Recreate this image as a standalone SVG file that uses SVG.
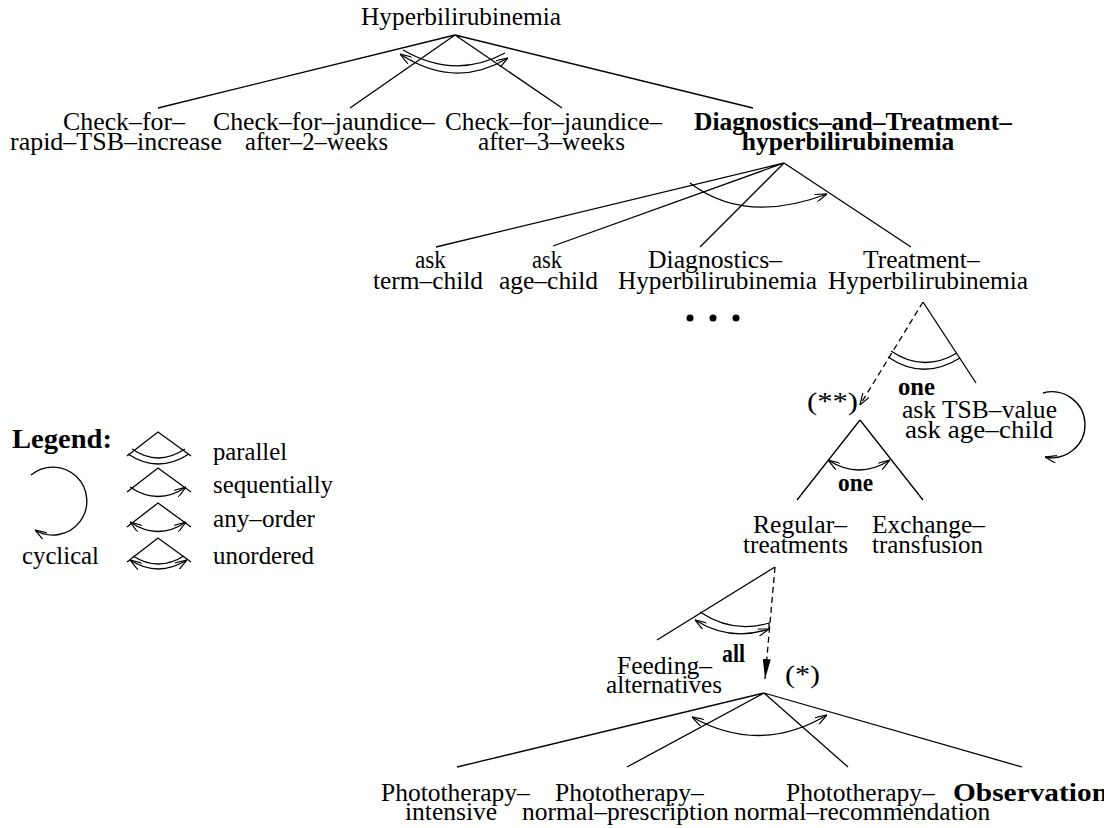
<svg xmlns="http://www.w3.org/2000/svg" width="1104" height="828" viewBox="0 0 1104 828">
<defs>
<style>
.t{font-family:"Liberation Serif","Times New Roman",serif;font-size:25.5px;fill:#000}
.b{font-weight:bold}
.ln{stroke:#000;stroke-width:1.3;fill:none}
.ds{stroke:#000;stroke-width:1.3;fill:none;stroke-dasharray:6 4}
.arc{stroke:#000;stroke-width:1.3;fill:none}
</style>
<marker id="oa" viewBox="0 0 12 8" refX="12" refY="4" markerWidth="12" markerHeight="8" markerUnits="userSpaceOnUse" orient="auto-start-reverse">
<path d="M0,0 L12,4 L0,8" fill="none" stroke="#000" stroke-width="1.2"/>
</marker>
<marker id="fa" viewBox="0 0 20 8" refX="20" refY="4" markerWidth="20" markerHeight="8" markerUnits="userSpaceOnUse" orient="auto">
<path d="M0,0 L20,4 L0,8 Z" fill="#000"/>
</marker>
</defs>
<rect width="1104" height="828" fill="#fff"/>

<g id="connectors">
<path class="ln" d="M455 35 L158 108 M455 35 L350 108 M455 35 L562 108 M455 35 L753 108"/>
<path class="arc" d="M403 50 Q455 80 505 53"/>
<path class="arc" d="M400 54 Q455 90 508 58" marker-start="url(#oa)" marker-end="url(#oa)"/>
<path class="ln" d="M784 163 L436 247 M784 163 L553 246 M784 163 L700 247 M784 163 L911 247"/>
<path class="arc" d="M690 183 Q745 225 827 194" marker-end="url(#oa)"/>
<path class="ln" d="M923 302 L976 383"/>
<path class="ds" d="M923 302 L860 405" marker-end="url(#oa)"/>
<path class="arc" d="M891 351 Q923 373 957 353"/>
<path class="arc" d="M888 357 Q923 381 960 358"/>
<path class="arc" d="M1043 393 A33 33 0 1 1 1045 457" marker-end="url(#oa)"/>
<path class="ln" d="M860 420 L797 500 M860 420 L923 500"/>
<path class="arc" d="M828 460 Q859 480 890 460" marker-start="url(#oa)" marker-end="url(#oa)"/>
<path class="ln" d="M775 567 L657 640"/>
<path class="ds" d="M775 567 L765 679" marker-end="url(#fa)"/>
<path class="arc" d="M700 612 Q733 634 769 623 L769 629"/>
<path class="arc" d="M695 620 Q730 642 769 629" marker-start="url(#oa)" marker-end="url(#oa)"/>
<path class="ln" d="M764 693 L457 767 M764 693 L627 767 M764 693 L848 767 M764 693 L1022 767"/>
<path class="arc" d="M692 717 Q760 755 827 715" marker-start="url(#oa)" marker-end="url(#oa)"/>
</g>

<g id="n-root"><text class="t" x="361" y="25" textLength="200" lengthAdjust="spacingAndGlyphs">Hyperbilirubinemia</text></g>
<g id="n-rapid">
<text class="t" x="63" y="130" textLength="122" lengthAdjust="spacingAndGlyphs">Check–for–</text>
<text class="t" x="10" y="150" textLength="212" lengthAdjust="spacingAndGlyphs">rapid–TSB–increase</text>
</g>
<g id="n-jaundice2">
<text class="t" x="213" y="130" textLength="222" lengthAdjust="spacingAndGlyphs">Check–for–jaundice–</text>
<text class="t" x="245" y="150" textLength="143" lengthAdjust="spacingAndGlyphs">after–2–weeks</text>
</g>
<g id="n-jaundice3">
<text class="t" x="445" y="130" textLength="217" lengthAdjust="spacingAndGlyphs">Check–for–jaundice–</text>
<text class="t" x="478" y="150" textLength="147" lengthAdjust="spacingAndGlyphs">after–3–weeks</text>
</g>
<g id="n-diagtreat">
<text class="t b" x="853" y="130" text-anchor="middle">Diagnostics–and–Treatment–</text>
<text class="t b" x="848" y="150" text-anchor="middle">hyperbilirubinemia</text>
</g>
<g id="n-term">
<text class="t" x="415" y="268" textLength="31" lengthAdjust="spacingAndGlyphs">ask</text>
<text class="t" x="373" y="289" textLength="110" lengthAdjust="spacingAndGlyphs">term–child</text>
</g>
<g id="n-age">
<text class="t" x="532" y="268" textLength="30" lengthAdjust="spacingAndGlyphs">ask</text>
<text class="t" x="499" y="289" textLength="99" lengthAdjust="spacingAndGlyphs">age–child</text>
</g>
<g id="n-diag">
<text class="t" x="648" y="268" textLength="134" lengthAdjust="spacingAndGlyphs">Diagnostics–</text>
<text class="t" x="618" y="289" textLength="199" lengthAdjust="spacingAndGlyphs">Hyperbilirubinemia</text>
<circle cx="690" cy="318" r="3.5"/><circle cx="713" cy="318" r="3.5"/><circle cx="736" cy="318" r="3.5"/>
</g>
<g id="n-treat">
<text class="t" x="863" y="268">Treatment–</text>
<text class="t" x="828" y="289" textLength="200" lengthAdjust="spacingAndGlyphs">Hyperbilirubinemia</text>
<text class="t b" x="898" y="395" textLength="37" lengthAdjust="spacingAndGlyphs">one</text>
</g>
<g id="n-ask">
<text class="t" x="902" y="418" textLength="155" lengthAdjust="spacingAndGlyphs">ask TSB–value</text>
<text class="t" x="905" y="438" textLength="148" lengthAdjust="spacingAndGlyphs">ask age–child</text>
</g>
<g id="n-star2">
<text class="t" x="807" y="410" textLength="51" lengthAdjust="spacingAndGlyphs">(**)</text>
<text class="t b" x="838" y="491" textLength="35" lengthAdjust="spacingAndGlyphs">one</text>
</g>
<g id="n-regular">
<text class="t" x="753" y="533" textLength="94" lengthAdjust="spacingAndGlyphs">Regular–</text>
<text class="t" x="743" y="553" textLength="105" lengthAdjust="spacingAndGlyphs">treatments</text>
<text class="t b" x="722" y="662" textLength="23" lengthAdjust="spacingAndGlyphs">all</text>
</g>
<g id="n-exchange">
<text class="t" x="872" y="533" textLength="113" lengthAdjust="spacingAndGlyphs">Exchange–</text>
<text class="t" x="872" y="553" textLength="111" lengthAdjust="spacingAndGlyphs">transfusion</text>
</g>
<g id="n-feeding">
<text class="t" x="617" y="674" textLength="95" lengthAdjust="spacingAndGlyphs">Feeding–</text>
<text class="t" x="606" y="693" textLength="116" lengthAdjust="spacingAndGlyphs">alternatives</text>
</g>
<g id="n-star1"><text class="t" x="785" y="683" textLength="35" lengthAdjust="spacingAndGlyphs">(*)</text></g>
<g id="n-photo-int">
<text class="t" x="381" y="801">Phototherapy–</text>
<text class="t" x="405" y="820">intensive</text>
</g>
<g id="n-photo-presc">
<text class="t" x="555" y="801">Phototherapy–</text>
<text class="t" x="522" y="820">normal–prescription</text>
</g>
<g id="n-photo-rec">
<text class="t" x="786" y="801">Phototherapy–</text>
<text class="t" x="734" y="820">normal–recommendation</text>
</g>
<g id="n-observation"><text class="t b" x="953" y="801" textLength="155" lengthAdjust="spacingAndGlyphs">Observation</text></g>

<g id="legend">
<text class="t b" x="12" y="448" style="font-size:28px" textLength="100" lengthAdjust="spacingAndGlyphs">Legend:</text>
<path class="ln" d="M127 456 L158 432 L191 456"/>
<path class="arc" d="M132 449 Q158 467 185 449"/>
<path class="arc" d="M128 454 Q158 474 189 454"/>
<text class="t" x="213" y="460" textLength="74" lengthAdjust="spacingAndGlyphs">parallel</text>
<path class="ln" d="M127 492 L158 468 L191 492"/>
<path class="arc" d="M130 487 Q158 506 186 487" marker-end="url(#oa)"/>
<text class="t" x="213" y="493" textLength="120" lengthAdjust="spacingAndGlyphs">sequentially</text>
<path class="ln" d="M127 527 L158 503 L191 527"/>
<path class="arc" d="M130 522 Q158 541 186 522" marker-start="url(#oa)" marker-end="url(#oa)"/>
<text class="t" x="213" y="527" textLength="102" lengthAdjust="spacingAndGlyphs">any–order</text>
<path class="ln" d="M127 562 L158 538 L191 562"/>
<path class="arc" d="M133 556 Q158 572 184 556"/>
<path class="arc" d="M130 560 Q158 578 187 560" marker-start="url(#oa)" marker-end="url(#oa)"/>
<text class="t" x="213" y="564" textLength="101" lengthAdjust="spacingAndGlyphs">unordered</text>
<path class="arc" d="M31 475 A34 34 0 1 1 35 530" marker-end="url(#oa)"/>
<text class="t" x="22" y="564" textLength="77" lengthAdjust="spacingAndGlyphs">cyclical</text>
</g>
</svg>
